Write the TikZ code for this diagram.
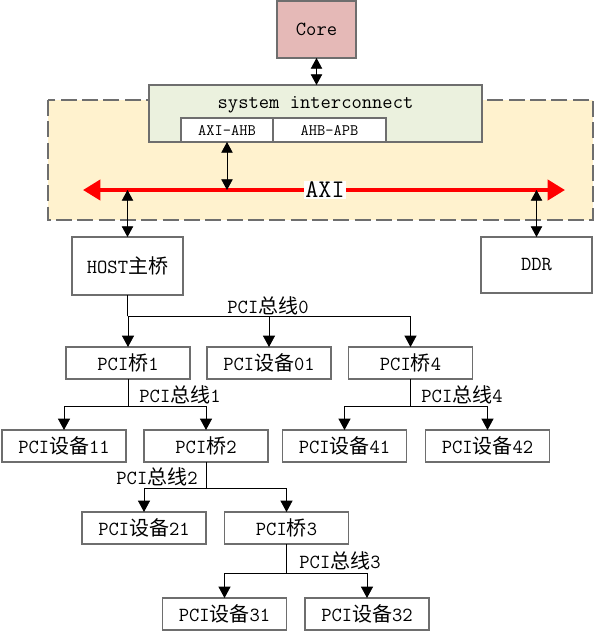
\documentclass[tikz,border=0pt]{standalone}
\usepackage{fontspec}
\newfontfamily\cjk{Noto Sans CJK SC}
\usetikzlibrary{arrows.meta}
\newcommand{\zh}[1]{{\cjk #1}}

\definecolor{edgegray}{RGB}{110,110,110}
\definecolor{corepink}{RGB}{229,185,183}
\definecolor{sigreen}{RGB}{235,241,222}
\definecolor{areayellow}{RGB}{255,242,206}
\definecolor{busred}{RGB}{255,0,0}

\tikzset{
  txt/.style={inner sep=0.75pt, font=\ttfamily\fontsize{15}{17}\selectfont},
  box/.style={txt, draw=edgegray, line width=1pt, inner sep=0pt, outer sep=0pt, minimum width=93pt, minimum height=24pt},
  smallbox/.style={box, fill=white, minimum height=18pt, font=\ttfamily\fontsize{12}{14}\selectfont},
  arr/.style={-{Triangle[length=8.5pt,width=9pt]}, line width=0.6pt},
  dbl/.style={{Triangle[length=8pt,width=8.5pt]}-{Triangle[length=8pt,width=8.5pt]}, line width=0.6pt},
  axibus/.style={{Triangle[length=13pt,width=15pt]}-{Triangle[length=13pt,width=15pt]}, busred, line width=3pt}
}

\begin{document}
\begin{tikzpicture}[x=0.75pt,y=0.75pt,yscale=-1,xscale=1]
\useasboundingbox (0,0) rectangle (596,633);

%Dashed area round the AXI bus
\draw [draw=edgegray, fill=areayellow, line width=1.5pt, dash pattern={on 12pt off 4pt}] (48,100) rectangle (593,220);

% Core and interconnect
\node [box, fill=corepink, minimum width=59.25pt, minimum height=42.75pt] (core) at (316.5,29.5) {Core};
\node [box, fill=sigreen, minimum width=249.75pt, minimum height=42.75pt] (si) at (315.5,113.5) {};
\node [txt] (sitext) at (315.5,105) {system interconnect};
\node [smallbox, minimum width=69pt] (axiahb) at (227,130) {AXI-AHB};
\node [smallbox, minimum width=84.75pt] (ahbapb) at (329.5,130) {AHB-APB};

% Host bridge and memory
\node [box, minimum width=83.25pt, minimum height=43.5pt] (host) at (127.5,266) {HOST\zh{主桥}};
\node [box, minimum width=83.25pt, minimum height=42pt] (ddr) at (536.5,265) {DDR};

%AXI bus
\coordinate (axil) at (83,190);
\coordinate (axir) at (565,190);
\draw [axibus] (axil) -- (axir);
\draw [dbl] (core.south) -- (core.south |- si.north);
\draw [dbl] (axiahb.south) -- (axiahb.south |- axil);
\draw [dbl] (host.north) -- (host.north |- axil);
\draw [dbl] (ddr.north) -- (ddr.north |- axil);
\node [txt, fill=white, inner sep=1pt, font=\ttfamily\fontsize{19}{21}\selectfont] (axilab) at (325,190) {AXI};

% PCI boxes
\node [box] (pcib1) at (128,363) {PCI\zh{桥}1};
\node [box] (dev01) at (269,363) {PCI\zh{设备}01};
\node [box] (pcib4) at (410.5,363) {PCI\zh{桥}4};
\node [box] (dev11) at (64,446) {PCI\zh{设备}11};
\node [box] (pcib2) at (206,446) {PCI\zh{桥}2};
\node [box] (dev41) at (344.5,446) {PCI\zh{设备}41};
\node [box] (dev42) at (487.5,446) {PCI\zh{设备}42};
\node [box] (dev21) at (144,528) {PCI\zh{设备}21};
\node [box] (pcib3) at (286.5,528) {PCI\zh{桥}3};
\node [box] (dev31) at (224.5,614) {PCI\zh{设备}31};
\node [box] (dev32) at (367,614) {PCI\zh{设备}32};

%PCI bus 0
\coordinate (b0) at (host.south |- 0,316);
\draw [line width=0.6pt] (host.south) -- (b0);
\draw [arr] (b0) -| (pcib1.north);
\draw [arr] (b0) -| (dev01.north);
\draw [arr] (b0) -| (pcib4.north);
\node [txt] (bus0) at (268,306) {PCI\zh{总线}0};

%PCI bus 1
\coordinate (b1) at (pcib1.south |- 0,406);
\draw [line width=0.6pt] (pcib1.south) -- (b1);
\draw [arr] (b1) -| (dev11.north);
\draw [arr] (b1) -| (pcib2.north);
\node [txt] (bus1) at (180,395) {PCI\zh{总线}1};

%PCI bus 4
\coordinate (b4) at (pcib4.south |- 0,406);
\draw [line width=0.6pt] (pcib4.south) -- (b4);
\draw [arr] (b4) -| (dev41.north);
\draw [arr] (b4) -| (dev42.north);
\node [txt] (bus4) at (462,395) {PCI\zh{总线}4};

%PCI bus 2
\coordinate (b2) at (pcib2.south |- 0,488);
\draw [line width=0.6pt] (pcib2.south) -- (b2);
\draw [arr] (b2) -| (dev21.north);
\draw [arr] (b2) -| (pcib3.north);
\node [txt] (bus2) at (157,477) {PCI\zh{总线}2};

%PCI bus 3
\coordinate (b3) at (pcib3.south |- 0,573);
\draw [line width=0.6pt] (pcib3.south) -- (b3);
\draw [arr] (b3) -| (dev31.north);
\draw [arr] (b3) -| (dev32.north);
\node [txt] (bus3) at (340,561) {PCI\zh{总线}3};

\end{tikzpicture}
\end{document}
